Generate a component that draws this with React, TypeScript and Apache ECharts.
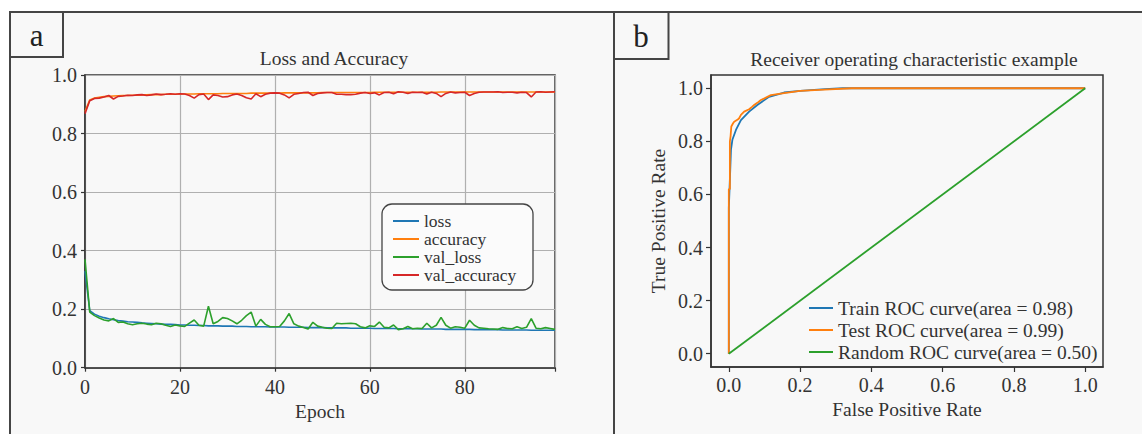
import React, { useEffect, useRef } from "react";
import * as echarts from "echarts";

const epochs: number[] = Array.from({ length: 100 }, (_, i) => i);

const loss: number[] = [
  0.33, 0.195, 0.183, 0.176, 0.171, 0.167, 0.164, 0.161, 0.159, 0.157,
  0.156, 0.155, 0.153, 0.152, 0.151, 0.150, 0.149, 0.148, 0.148, 0.147,
  0.146, 0.146, 0.145, 0.145, 0.144, 0.144, 0.143, 0.143, 0.143, 0.142,
  0.142, 0.142, 0.141, 0.141, 0.141, 0.140, 0.140, 0.140, 0.140, 0.139,
  0.139, 0.139, 0.139, 0.138, 0.138, 0.138, 0.138, 0.137, 0.137, 0.137,
  0.137, 0.136, 0.136, 0.136, 0.136, 0.136, 0.135, 0.135, 0.135, 0.135,
  0.135, 0.134, 0.134, 0.134, 0.134, 0.134, 0.133, 0.133, 0.133, 0.133,
  0.133, 0.132, 0.132, 0.132, 0.132, 0.132, 0.131, 0.131, 0.131, 0.131,
  0.131, 0.131, 0.130, 0.130, 0.130, 0.130, 0.130, 0.130, 0.129, 0.129,
  0.129, 0.129, 0.129, 0.129, 0.128, 0.128, 0.128, 0.128, 0.128, 0.128,
];

const accuracy: number[] = [
  0.875, 0.915, 0.921, 0.924, 0.926, 0.927, 0.928, 0.929, 0.930, 0.930,
  0.931, 0.931, 0.932, 0.932, 0.933, 0.933, 0.933, 0.934, 0.934, 0.934,
  0.935, 0.935, 0.935, 0.935, 0.936, 0.936, 0.936, 0.936, 0.936, 0.937,
  0.937, 0.937, 0.937, 0.937, 0.937, 0.938, 0.938, 0.938, 0.938, 0.938,
  0.938, 0.938, 0.939, 0.939, 0.939, 0.939, 0.939, 0.939, 0.939, 0.939,
  0.940, 0.940, 0.940, 0.940, 0.940, 0.940, 0.940, 0.940, 0.940, 0.940,
  0.940, 0.941, 0.941, 0.941, 0.941, 0.941, 0.941, 0.941, 0.941, 0.941,
  0.941, 0.941, 0.941, 0.941, 0.941, 0.942, 0.942, 0.942, 0.942, 0.942,
  0.942, 0.942, 0.942, 0.942, 0.942, 0.942, 0.942, 0.942, 0.942, 0.942,
  0.942, 0.942, 0.942, 0.942, 0.942, 0.942, 0.942, 0.942, 0.942, 0.942,
];

const valLoss: number[] = [
  0.37, 0.19, 0.178, 0.170, 0.163, 0.160, 0.168, 0.155, 0.156, 0.150,
  0.147, 0.150, 0.152, 0.149, 0.147, 0.152, 0.150, 0.145, 0.141, 0.146,
  0.143, 0.141, 0.152, 0.163, 0.145, 0.142, 0.210, 0.150, 0.158, 0.171,
  0.168, 0.160, 0.150, 0.162, 0.178, 0.190, 0.142, 0.165, 0.148, 0.140,
  0.140, 0.141, 0.160, 0.185, 0.150, 0.142, 0.137, 0.132, 0.155, 0.142,
  0.138, 0.135, 0.134, 0.152, 0.150, 0.151, 0.152, 0.150, 0.140, 0.136,
  0.143, 0.141, 0.156, 0.138, 0.136, 0.146, 0.130, 0.133, 0.141, 0.133,
  0.135, 0.134, 0.152, 0.136, 0.145, 0.172, 0.145, 0.135, 0.140, 0.138,
  0.135, 0.162, 0.145, 0.136, 0.135, 0.133, 0.132, 0.131, 0.137, 0.134,
  0.133, 0.140, 0.134, 0.138, 0.168, 0.135, 0.133, 0.137, 0.134, 0.131,
];

const valAccuracy: number[] = [
  0.868, 0.912, 0.920, 0.921, 0.925, 0.930, 0.918, 0.927, 0.928, 0.931,
  0.930, 0.932, 0.933, 0.930, 0.932, 0.935, 0.933, 0.934, 0.936, 0.934,
  0.936, 0.935, 0.930, 0.921, 0.933, 0.935, 0.916, 0.932, 0.930, 0.925,
  0.926, 0.932, 0.935, 0.930, 0.922, 0.918, 0.936, 0.926, 0.934, 0.938,
  0.939, 0.938, 0.932, 0.922, 0.934, 0.937, 0.940, 0.941, 0.930, 0.937,
  0.939, 0.940, 0.940, 0.934, 0.934, 0.933, 0.933, 0.934, 0.938, 0.940,
  0.937, 0.939, 0.932, 0.940, 0.941, 0.936, 0.943, 0.941, 0.937, 0.941,
  0.940, 0.941, 0.935, 0.941, 0.937, 0.926, 0.937, 0.942, 0.939, 0.940,
  0.941, 0.930, 0.937, 0.941, 0.942, 0.942, 0.942, 0.943, 0.940, 0.941,
  0.941, 0.939, 0.941, 0.940, 0.925, 0.942, 0.943, 0.941, 0.942, 0.943,
];

const trainRoc: number[][] = [
  [0, 0], [0, 0.55], [0.002, 0.62], [0.004, 0.693], [0.006, 0.768], [0.01, 0.806],
  [0.02, 0.843], [0.034, 0.88], [0.057, 0.912], [0.08, 0.937], [0.113, 0.968],
  [0.155, 0.984], [0.2, 0.99], [0.27, 0.997], [0.32, 1.0], [1, 1],
];

const testRoc: number[][] = [
  [0, 0], [0, 0.62], [0.003, 0.62], [0.003, 0.8], [0.005, 0.82], [0.007, 0.856],
  [0.012, 0.868], [0.015, 0.874], [0.025, 0.882], [0.029, 0.887], [0.034, 0.9],
  [0.043, 0.912], [0.057, 0.921], [0.065, 0.93], [0.071, 0.937], [0.08, 0.945],
  [0.09, 0.956], [0.1, 0.962], [0.118, 0.974], [0.155, 0.982], [0.2, 0.99],
  [0.268, 0.995], [0.345, 1.0], [1, 1],
];

const randomRoc: number[][] = [[0, 0], [1, 1]];

const seriesNamesA = ["loss", "accuracy", "val_loss", "val_accuracy"];
const seriesNamesB = [
  "Train ROC curve(area = 0.98)",
  "Test ROC curve(area = 0.99)",
  "Random ROC curve(area = 0.50)",
];
const rocTicks = [0, 0.2, 0.4, 0.6, 0.8, 1.0];

const C = ["#1f77b4", "#ff7f0e", "#2ca02c", "#d62728"];
const FONT = "Liberation Serif";
const TXT = "#333";
const FRAME = "#454545";

export default function App() {
  const ref = useRef<HTMLDivElement>(null);
  useEffect(() => {
    if (!ref.current) return;
    const chart = echarts.init(ref.current, null, { renderer: "svg" });
    const tickLabel = { fontFamily: FONT, fontSize: 20, color: TXT };
    const nameStyle = { fontFamily: FONT, fontSize: 19.5, color: TXT };
    const axisLine = { lineStyle: { color: "#333", width: 1.5 } };
    const axisTick = { length: 4, lineStyle: { color: "#333", width: 1.2 } };
    const pair = (xs: number[], ys: number[]) => xs.map((x, i) => [x, ys[i]]);

    chart.setOption({
      animation: false,
      backgroundColor: "#ffffff",
      grid: [
        { left: 85, top: 75, width: 470, height: 292.7, show: true, borderColor: "#333", borderWidth: 1.5 },
        { left: 711, top: 75, width: 392, height: 292, show: true, borderColor: "#333", borderWidth: 1.5 },
      ],
      xAxis: [
        {
          type: "value", gridIndex: 0, min: 0, max: 99, interval: 20,
          name: "Epoch", nameLocation: "middle", nameGap: 31,
          nameTextStyle: nameStyle,
          axisLine, axisTick,
          axisLabel: { ...tickLabel, margin: 9, formatter: (v: number) => (v % 20 === 0 ? String(v) : "") },
          splitLine: { show: true, lineStyle: { color: "#b0b0b0", width: 1.2 } },
        },
        {
          type: "value", gridIndex: 1, min: -0.05, max: 1.05,
          name: "False Positive Rate", nameLocation: "middle", nameGap: 31,
          nameTextStyle: nameStyle,
          axisLine: { ...axisLine, onZero: false },
          axisTick: { ...axisTick, length: 5, customValues: rocTicks },
          axisLabel: { ...tickLabel, margin: 8, customValues: rocTicks, formatter: (v: number) => v.toFixed(1) },
          splitLine: { show: false },
        },
      ],
      yAxis: [
        {
          type: "value", gridIndex: 0, min: 0, max: 1, interval: 0.2,
          axisLine, axisTick,
          axisLabel: { ...tickLabel, margin: 8, formatter: (v: number) => v.toFixed(1) },
          splitLine: { show: true, lineStyle: { color: "#b0b0b0", width: 1.2 } },
        },
        {
          type: "value", gridIndex: 1, min: -0.05, max: 1.05,
          name: "True Positive Rate", nameLocation: "middle", nameGap: 43, nameRotate: 90,
          nameTextStyle: nameStyle,
          axisLine: { ...axisLine, onZero: false },
          axisTick: { ...axisTick, length: 5, customValues: rocTicks },
          axisLabel: { ...tickLabel, margin: 8, customValues: rocTicks, formatter: (v: number) => v.toFixed(1) },
          splitLine: { show: false },
        },
      ],
      legend: [
        {
          data: seriesNamesA, orient: "vertical", left: 393, top: 212, padding: 0,
          itemGap: 0, itemWidth: 26, itemHeight: 2, icon: "rect", z: 6,
          textStyle: { fontFamily: FONT, fontSize: 17.5, color: TXT, lineHeight: 16.5 },
        },
        {
          data: seriesNamesB, orient: "vertical", left: 809, top: 297, padding: 0,
          itemGap: 0, itemWidth: 24, itemHeight: 2, icon: "rect", z: 6,
          textStyle: { fontFamily: FONT, fontSize: 19.5, color: TXT, lineHeight: 22 },
        },
      ],
      graphic: [
        { type: "rect", z: -10, silent: true, shape: { x: 10, y: 12, width: 1132, height: 422 }, style: { fill: "#f8f8f8" } },
        { type: "line", z: 10, shape: { x1: 9, y1: 12, x2: 1142, y2: 12 }, style: { stroke: FRAME, lineWidth: 2 } },
        { type: "line", z: 10, shape: { x1: 10, y1: 12, x2: 10, y2: 434 }, style: { stroke: FRAME, lineWidth: 2 } },
        { type: "line", z: 10, shape: { x1: 614, y1: 12, x2: 614, y2: 434 }, style: { stroke: FRAME, lineWidth: 2 } },
        { type: "rect", z: 10, shape: { x: 10, y: 12, width: 53, height: 45 }, style: { fill: "none", stroke: FRAME, lineWidth: 2 } },
        { type: "rect", z: 10, shape: { x: 614, y: 12, width: 54.5, height: 47 }, style: { fill: "none", stroke: FRAME, lineWidth: 2 } },
        { type: "text", z: 10, x: 36.5, y: 35, style: { text: "a", font: `31px '${FONT}'`, fill: "#222", textAlign: "center", textVerticalAlign: "middle" } },
        { type: "text", z: 10, x: 641, y: 36, style: { text: "b", font: `31px '${FONT}'`, fill: "#222", textAlign: "center", textVerticalAlign: "middle" } },
        { type: "text", z: 10, x: 334, y: 58, style: { text: "Loss and Accuracy", font: `19.5px '${FONT}'`, fill: TXT, textAlign: "center", textVerticalAlign: "middle" } },
        { type: "text", z: 10, x: 914, y: 59, style: { text: "Receiver operating characteristic example", font: `19.5px '${FONT}'`, fill: TXT, textAlign: "center", textVerticalAlign: "middle" } },
        { type: "rect", z: 5, shape: { x: 382, y: 204, width: 151, height: 86, r: 10 }, style: { fill: "#fbfbfb", stroke: "#444", lineWidth: 1.3 } },
      ],
      series: [
        { name: "loss", type: "line", xAxisIndex: 0, yAxisIndex: 0, data: pair(epochs, loss), showSymbol: false, lineStyle: { width: 1.6, color: C[0] }, itemStyle: { color: C[0] } },
        { name: "accuracy", type: "line", xAxisIndex: 0, yAxisIndex: 0, data: pair(epochs, accuracy), showSymbol: false, lineStyle: { width: 1.6, color: C[1] }, itemStyle: { color: C[1] } },
        { name: "val_loss", type: "line", xAxisIndex: 0, yAxisIndex: 0, data: pair(epochs, valLoss), showSymbol: false, lineStyle: { width: 1.6, color: C[2] }, itemStyle: { color: C[2] } },
        { name: "val_accuracy", type: "line", xAxisIndex: 0, yAxisIndex: 0, data: pair(epochs, valAccuracy), showSymbol: false, lineStyle: { width: 1.6, color: C[3] }, itemStyle: { color: C[3] } },
        { name: seriesNamesB[0], type: "line", xAxisIndex: 1, yAxisIndex: 1, data: trainRoc, showSymbol: false, lineStyle: { width: 1.8, color: C[0] }, itemStyle: { color: C[0] } },
        { name: seriesNamesB[1], type: "line", xAxisIndex: 1, yAxisIndex: 1, data: testRoc, showSymbol: false, lineStyle: { width: 1.8, color: C[1] }, itemStyle: { color: C[1] } },
        { name: seriesNamesB[2], type: "line", xAxisIndex: 1, yAxisIndex: 1, data: randomRoc, showSymbol: false, lineStyle: { width: 1.8, color: C[2] }, itemStyle: { color: C[2] } },
      ],
    });
    return () => chart.dispose();
  }, []);
  return <div ref={ref} style={{ position: "fixed", left: 0, top: 0, width: 1142, height: 434 }} />;
}
